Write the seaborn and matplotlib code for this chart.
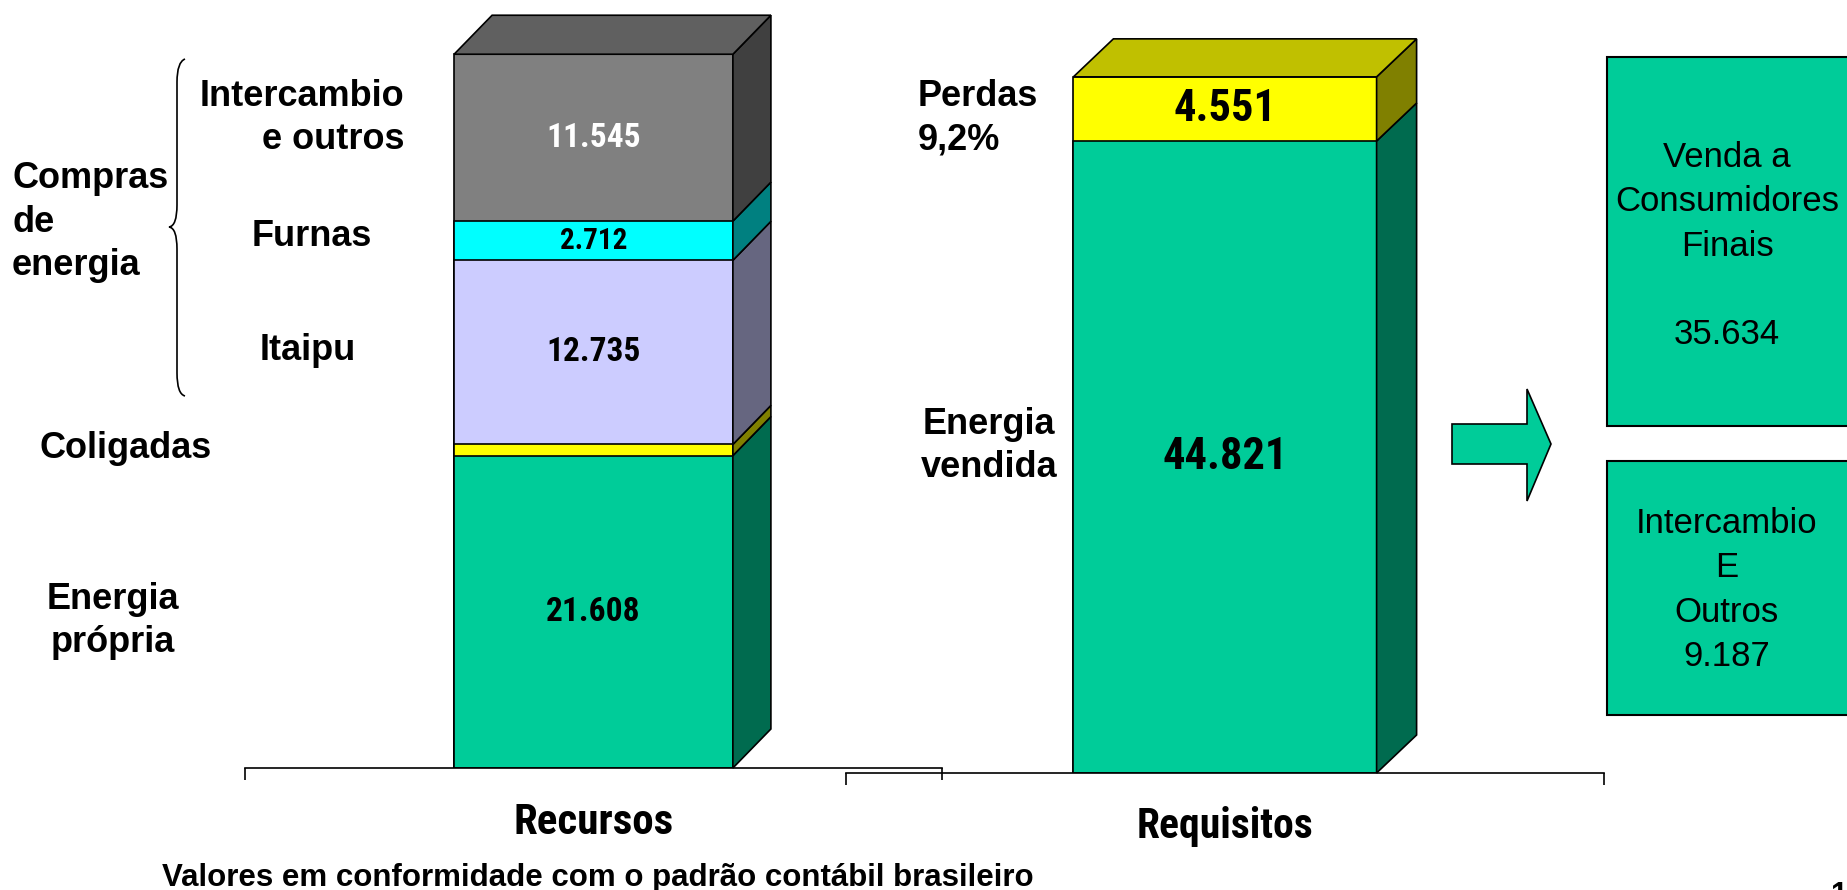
import os
import numpy as np
import pandas as pd
import matplotlib
matplotlib.use("Agg")
import matplotlib.pyplot as plt
import seaborn as sns
from matplotlib import font_manager as fm
from matplotlib.patches import Polygon, Rectangle, PathPatch
from matplotlib.path import Path

# Recursos (bottom to top)
rec_names = ["Energia própria", "Coligadas", "Itaipu", "Furnas", "Intercambio e outros"]
rec_values = [21.608, 0.772, 12.735, 2.712, 11.545]

# Requisitos (bottom to top)
req_names = ["Energia vendida", "Perdas"]
req_values = [44.821, 4.551]

# Breakdown of energia vendida
venda_names = ["Venda a\nConsumidores\nFinais\n", "Intercambio\nE\nOutros"]
venda_values = [35.634, 9.187]

# colours: front face / side face / value text
rec_front = ["#00CC99", "#FFFF00", "#CCCCFF", "#00FFFF", "#808080"]
rec_side = ["#006B4F", "#808000", "#666680", "#008080", "#404040"]
rec_txt = ["black", "black", "black", "black", "white"]
req_front = ["#00CC99", "#FFFF00"]
req_side = ["#006B4F", "#808000"]
req_txt = ["black", "black"]

sns.set_theme(style="white")
plt.rcParams["font.family"] = ["Liberation Sans", "DejaVu Sans"]
plt.rcParams["text.color"] = "black"
plt.rcParams["axes.labelcolor"] = "black"


def narrow_bold():
    # a condensed bold face, closest thing to Arial Narrow Bold that is installed
    order = ["liberationsansnarrow", "arialnarrow", "robotocondensed", "notosans", "opensans", "dejavusans"]
    found = []
    for f in fm.fontManager.ttflist:
        b = os.path.basename(f.fname).lower().replace("-", "").replace("_", "")
        if ("narrow" in b or "condensed" in b) and "bold" in b and "italic" not in b \
                and "oblique" not in b and "semi" not in b and "extra" not in b and "ultra" not in b:
            rank = next((i for i, k in enumerate(order) if b.startswith(k)), len(order))
            found.append((rank, f.fname))
    if found:
        return fm.FontProperties(fname=sorted(found)[0][1])
    return fm.FontProperties(family="Liberation Sans", weight="bold")


NB = narrow_bold()


def nb(size):
    p = NB.copy()
    p.set_size(size)
    return p


W, H = 1847, 890
fig = plt.figure(figsize=(W / 100, H / 100), dpi=100)

# pixel-coordinate layer for labels, boxes, arrow, brace
deco = fig.add_axes([0, 0, 1, 1])
deco.set_xlim(0, W)
deco.set_ylim(H, 0)
deco.axis("off")


def fmt(v):
    return f"{v:.3f}"


def stack3d(ax, values, fronts, sides, txt_colors, top_color, dx_px, dy_px, sizes):
    tops = np.cumsum(values)
    bottoms = tops - np.array(values)
    df = pd.DataFrame({"cat": ["x"] * len(values), "top": tops})
    for i in reversed(range(len(values))):
        sns.barplot(data=df.iloc[[i]], x="cat", y="top", ax=ax, color=fronts[i],
                    width=0.4, saturation=1, edgecolor="black", linewidth=1.2)
    ax.set_xlim(-0.5, 0.5)
    pos = ax.get_position()
    y0, y1 = ax.get_ylim()
    dx = dx_px / (pos.width * W)
    dy = dy_px / (pos.height * H) * (y1 - y0)
    xl, xr = -0.2, 0.2
    for b, t, c in zip(bottoms, tops, sides):
        ax.add_patch(Polygon([(xr, b), (xr + dx, b + dy), (xr + dx, t + dy), (xr, t)],
                             closed=True, fc=c, ec="black", lw=1.2, clip_on=False))
    T = tops[-1]
    ax.add_patch(Polygon([(xl, T), (xl + dx, T + dy), (xr + dx, T + dy), (xr, T)],
                         closed=True, fc=top_color, ec="black", lw=1.2, clip_on=False))
    for b, v, c, s in zip(bottoms, values, txt_colors, sizes):
        if s:
            ax.text(0, b + v / 2, fmt(v), ha="center", va="center", color=c, fontproperties=nb(s))
    sns.despine(ax=ax, left=True)
    ax.set_facecolor("none")
    ax.set_yticks([])
    ax.set_ylabel("")
    ax.set_xticks([-0.5, 0.5], ["", ""])
    ax.tick_params(axis="x", bottom=True, direction="out", length=8.5, width=1.2, color="black")
    ax.spines["bottom"].set_color("black")
    ax.spines["bottom"].set_linewidth(1.2)


# left chart: Recursos
ax_rec = fig.add_axes([245 / W, (H - 768) / H, 697 / W, 768 / H])
ax_rec.set_ylim(0, 768 / 14.457)
stack3d(ax_rec, rec_values, rec_front, rec_side, rec_txt, "#606060", 38, 39,
        [24, 0, 24, 21, 24])
ax_rec.set_xlabel("Recursos", fontproperties=nb(31), va="top")
ax_rec.xaxis.set_label_coords(0.5, -0.044)

# right chart: Requisitos
ax_req = fig.add_axes([846 / W, (H - 773) / H, 758 / W, 773 / H])
ax_req.set_ylim(0, 773 / 14.10)
stack3d(ax_req, req_values, req_front, req_side, req_txt, "#C0C000", 40, 38, [32, 32])
ax_req.set_xlabel("Requisitos", fontproperties=nb(30), va="top")
ax_req.xaxis.set_label_coords(0.5, -0.043)

# side labels
lab = dict(fontsize=26, fontweight="bold", va="center", linespacing=1.32)
deco.text(404, 118, "Intercambio\ne outros", ha="right", multialignment="right", **lab)
deco.text(312, 237, "Furnas", ha="center", **lab)
deco.text(308, 350, "Itaipu", ha="center", **lab)
deco.text(126, 449, "Coligadas", ha="center", **lab)
deco.text(113, 621, "Energia\nprópria", ha="center", multialignment="center", **lab)
deco.text(12, 222, "Compras\nde\nenergia", ha="left", multialignment="left", **lab)

perc = req_values[1] / sum(req_values) * 100
deco.text(918, 118, req_names[1].split()[0] + "\n" + f"{perc:.1f}".replace(".", ",") + "%",
          ha="left", multialignment="left", **lab)
deco.text(989, 446, "Energia\nvendida", ha="center", multialignment="center", **lab)

# brace around the purchases
brace = Path([(185, 59), (177, 62), (177, 82), (177, 205), (177, 226), (169, 227),
              (177, 228), (177, 249), (177, 373), (177, 394), (185, 396)],
             [Path.MOVETO, Path.CURVE3, Path.CURVE3, Path.LINETO, Path.CURVE3, Path.CURVE3,
              Path.CURVE3, Path.CURVE3, Path.LINETO, Path.CURVE3, Path.CURVE3])
deco.add_patch(PathPatch(brace, fc="none", ec="black", lw=1.2))

# arrow
deco.add_patch(Polygon([(1452, 424), (1527, 424), (1527, 389), (1551, 444),
                        (1527, 501), (1527, 464), (1452, 464)],
                       closed=True, fc="#00CC99", ec="black", lw=1.2))

# boxes with the split of energia vendida
for (top, bot, cy), name, v in zip([(57, 426, 246), (461, 715, 590)], venda_names, venda_values):
    deco.add_patch(Rectangle((1607, top), 260, bot - top, fc="#00CC99", ec="black", lw=1.5))
    deco.text(1727, cy, name + "\n" + fmt(v), ha="center", va="center",
              multialignment="center", fontsize=25, linespacing=1.44)

fig.text(598 / W, 1 - 878 / H, "Valores em conformidade com o padrão contábil brasileiro",
         ha="center", va="center", fontsize=22.5, fontweight="bold")
fig.text(1830 / W, 1 - 881 / H, "1", ha="left", va="top", fontsize=22, fontweight="bold")

fig.savefig("out.png", dpi=100)
